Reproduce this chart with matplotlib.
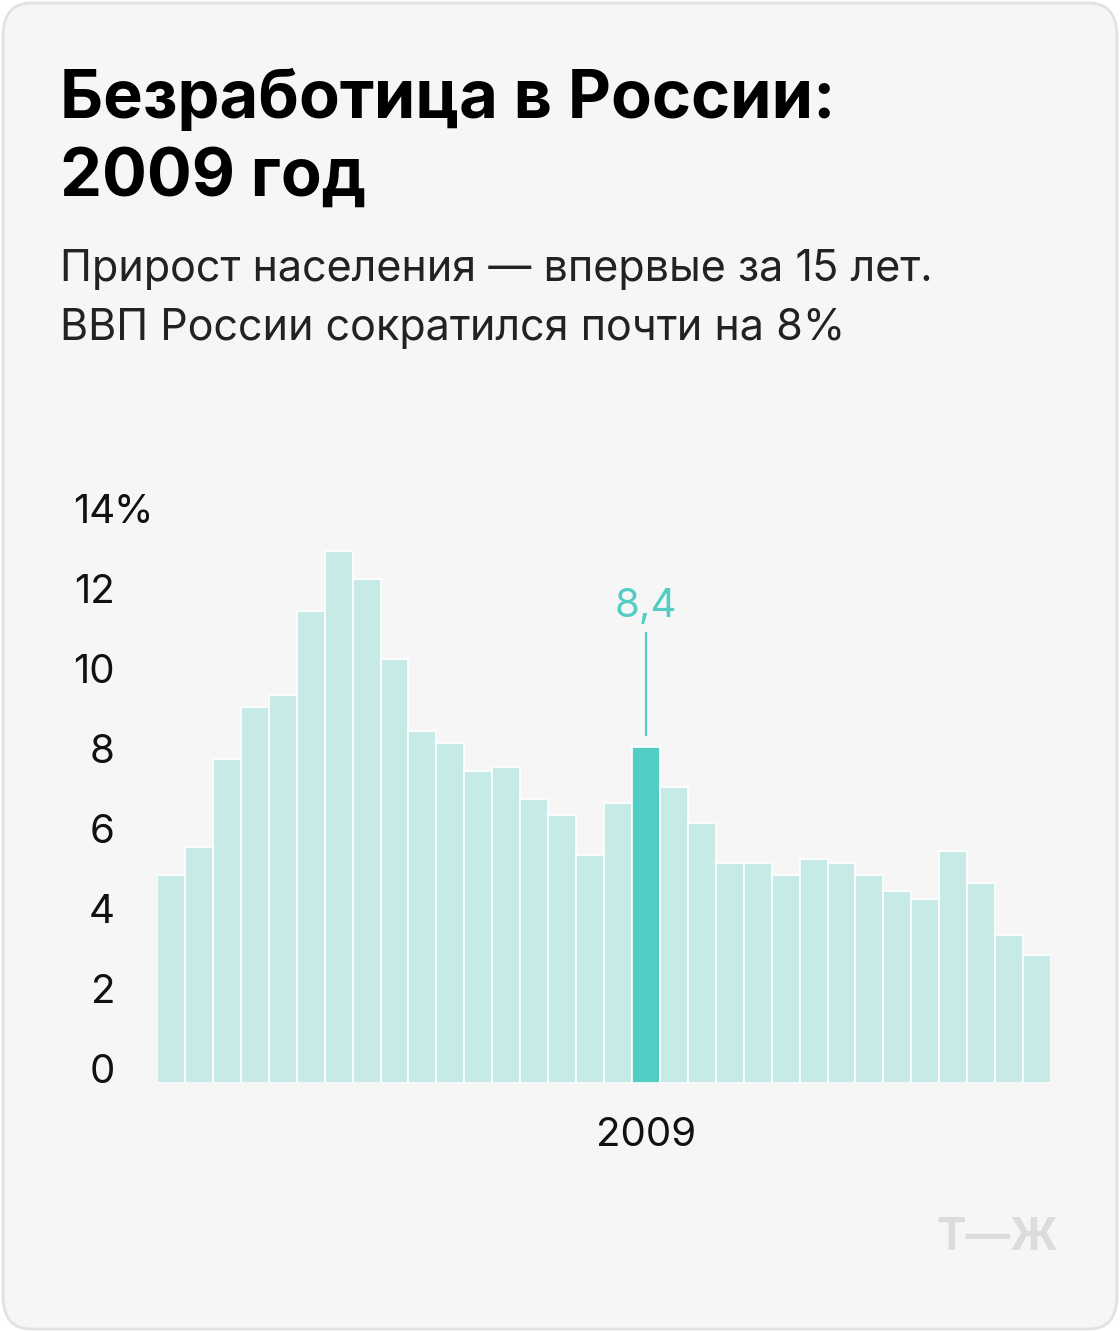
import matplotlib
matplotlib.use("Agg")
import matplotlib.pyplot as plt
from matplotlib.patches import FancyBboxPatch

years = list(range(1992, 2024))
values = [5.2, 5.9, 8.1, 9.4, 9.7, 11.8, 13.3, 12.6, 10.6, 8.8, 8.5, 7.8, 7.9, 7.1, 6.7, 5.7,
          7.0, 8.4, 7.4, 6.5, 5.5, 5.5, 5.2, 5.6, 5.5, 5.2, 4.8, 4.6, 5.8, 5.0, 3.7, 3.2]
highlight_year = 2009
yticks = [0, 2, 4, 6, 8, 10, 12, 14]

W, H = 1120, 1332
fig = plt.figure(figsize=(W/100, H/100), dpi=100)
fig.patch.set_facecolor("white")
bgax = fig.add_axes([0, 0, 1, 1], zorder=-10)
bgax.axis("off")
bgax.add_patch(FancyBboxPatch((3/W, 3/H), (W-6)/W, (H-6)/H, boxstyle="round,pad=0,rounding_size=0.025",
                              transform=bgax.transAxes, facecolor="#f6f6f6", edgecolor="#e2e2e2", lw=2))

FONT = "Inter"
fig.text(60/W, 1-100/H, "Безработица в России:", fontsize=48, fontweight="bold", family=FONT, va="center")
fig.text(60/W, 1-178/H, "2009 год", fontsize=48, fontweight="bold", family=FONT, va="center")
fig.text(60/W, 1-270/H, "Прирост населения — впервые за 15 лет.", fontsize=31, family=FONT, va="center", color="#222222")
fig.text(60/W, 1-329/H, "ВВП России сократился почти на 8%", fontsize=31, family=FONT, va="center", color="#222222")

ax = fig.add_axes([157/W, (H-1083)/H, 894/W, 560/H])
ax.set_facecolor("none")
x = list(range(len(years)))
colors = ["#52cdc4" if y == highlight_year else "#c6ebe6" for y in years]
ax.bar(x, values, width=1.0, color=colors, edgecolor="white", linewidth=1.2)
ax.set_xlim(-0.5, len(years) - 0.5)
ax.set_ylim(0, 14)
ax.axis("off")

for t in yticks:
    yy = (H-1083)/H + (t*40 - 8)/H
    ax.text(115/W, yy, str(t), transform=fig.transFigure, ha="right", va="bottom",
            fontsize=29, family=FONT, color="#111111")
    if t == 14:
        ax.text(113/W, yy, "%", transform=fig.transFigure, ha="left", va="bottom",
                fontsize=29, family=FONT, color="#111111")

i = years.index(highlight_year)
v = values[i]
ax.plot([i, i], [v + 0.3, v + 2.85], color="#52cdc4", lw=1.5)
ax.text(i, v + 3.05, f"{v}".replace(".", ","), ha="center", va="bottom", fontsize=29, family=FONT, color="#52cdc4")
ax.text(i, -0.85, str(highlight_year), ha="center", va="top", fontsize=29, family=FONT, color="#111111")

fig.text(1058/W, 1-1238/H, "Т—Ж", fontsize=32, fontweight="bold", family=FONT, ha="right", va="center", color="#dcdcdc")

fig.savefig("out.png", dpi=100)
